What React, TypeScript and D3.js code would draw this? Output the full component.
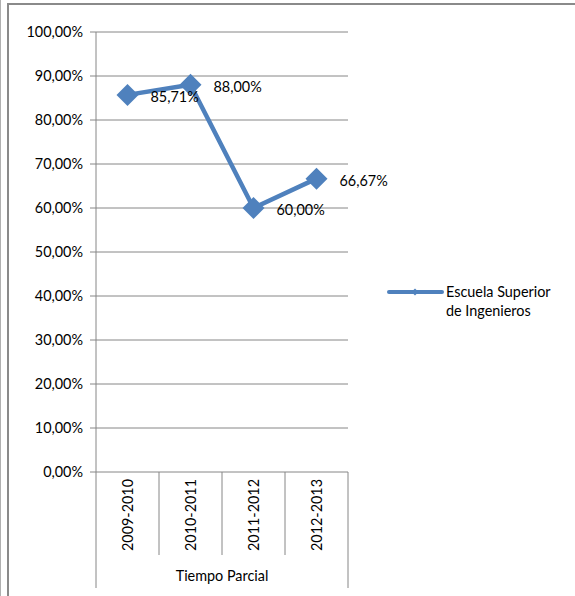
import React from "react";
import * as d3 from "d3";

const categories = ["2009-2010", "2010-2011", "2011-2012", "2012-2013"];
const values = [85.71, 88.0, 60.0, 66.67];
const valueLabels = ["85,71%", "88,00%", "60,00%", "66,67%"];
const yTicks = [0, 10, 20, 30, 40, 50, 60, 70, 80, 90, 100];
const groupLabel = "Tiempo Parcial";
const seriesName = ["Escuela Superior", "de Ingenieros"];

const W = 575;
const H = 596;
const FONT = "Lato, 'Open Sans', sans-serif";
const BLUE = "#4F81BD";
const GRID = "#868686";
const FS = 14.4;

export default function App() {
  const left = 96;
  const right = 348;
  const top = 32;
  const bottom = 472;
  const x = d3.scaleBand<string>().domain(categories).range([left, right]);
  const y = d3.scaleLinear().domain([0, 100]).range([bottom, top]);
  const line = d3
    .line<number>()
    .x((_, i) => x(categories[i])! + x.bandwidth() / 2)
    .y((d) => y(d));
  const fmt = (v: number) => v.toFixed(2).replace(".", ",") + "%";
  const diamond = (cx: number, cy: number, r: number) =>
    `M${cx},${cy - r}L${cx + r},${cy}L${cx},${cy + r}L${cx - r},${cy}Z`;

  return (
    <svg
      width={W}
      height={H}
      style={{ position: "absolute", left: 0, top: 0, background: "#fff" }}
      fontFamily={FONT}
    >
      <rect x={0} y={0} width={W} height={H} fill="#fff" />
      {/* frame */}
      <line x1={0.5} y1={0} x2={0.5} y2={H} stroke="#b0b0b0" strokeWidth={1} />
      <line x1={8} y1={3} x2={8} y2={H} stroke="#8a8a8a" strokeWidth={2} />
      <line x1={7} y1={4} x2={W} y2={4} stroke="#8a8a8a" strokeWidth={2} />

      {/* gridlines */}
      {yTicks.map((t) => (
        <g key={t}>
          <line x1={left - 6} x2={right} y1={y(t)} y2={y(t)} stroke={GRID} strokeWidth={1} />
          <text
            x={left - 13}
            y={y(t)}
            dy="0.35em"
            textAnchor="end"
            fontSize={FS}
            fill="#000"
          >
            {fmt(t)}
          </text>
        </g>
      ))}
      {/* y axis */}
      <line x1={left} x2={left} y1={top} y2={588} stroke={GRID} strokeWidth={1} />
      <line x1={right} x2={right} y1={bottom} y2={588} stroke={GRID} strokeWidth={1} />
      {categories.slice(1).map((c) => (
        <line key={c} x1={x(c)!} x2={x(c)!} y1={bottom} y2={555} stroke={GRID} strokeWidth={1} />
      ))}
      {categories.map((c) => {
        const cx = x(c)! + x.bandwidth() / 2;
        return (
          <text
            key={c}
            transform={`translate(${cx},515) rotate(-90)`}
            textAnchor="middle"
            dy="0.35em"
            fontSize={FS}
          >
            {c}
          </text>
        );
      })}
      <text x={(left + right) / 2} y={576} textAnchor="middle" dy="0.35em" fontSize={FS}>
        {groupLabel}
      </text>

      {/* series */}
      <path d={line(values) ?? ""} fill="none" stroke={BLUE} strokeWidth={4.5} strokeLinejoin="round" />
      {values.map((v, i) => {
        const cx = x(categories[i])! + x.bandwidth() / 2;
        return <path key={i} d={diamond(cx, y(v), 11)} fill={BLUE} />;
      })}
      {values.map((v, i) => {
        const cx = x(categories[i])! + x.bandwidth() / 2;
        return (
          <text key={i} x={cx + 23} y={y(v) + 2} dy="0.35em" fontSize={FS}>
            {valueLabels[i]}
          </text>
        );
      })}

      {/* legend */}
      <line x1={389} x2={442} y1={292} y2={292} stroke={BLUE} strokeWidth={4} strokeLinecap="round" />
      <path d={diamond(415, 292, 3.5)} fill={BLUE} />
      <text x={446} y={292} dy="0.35em" fontSize={FS}>
        {seriesName[0]}
      </text>
      <text x={446} y={311} dy="0.35em" fontSize={FS}>
        {seriesName[1]}
      </text>
    </svg>
  );
}
